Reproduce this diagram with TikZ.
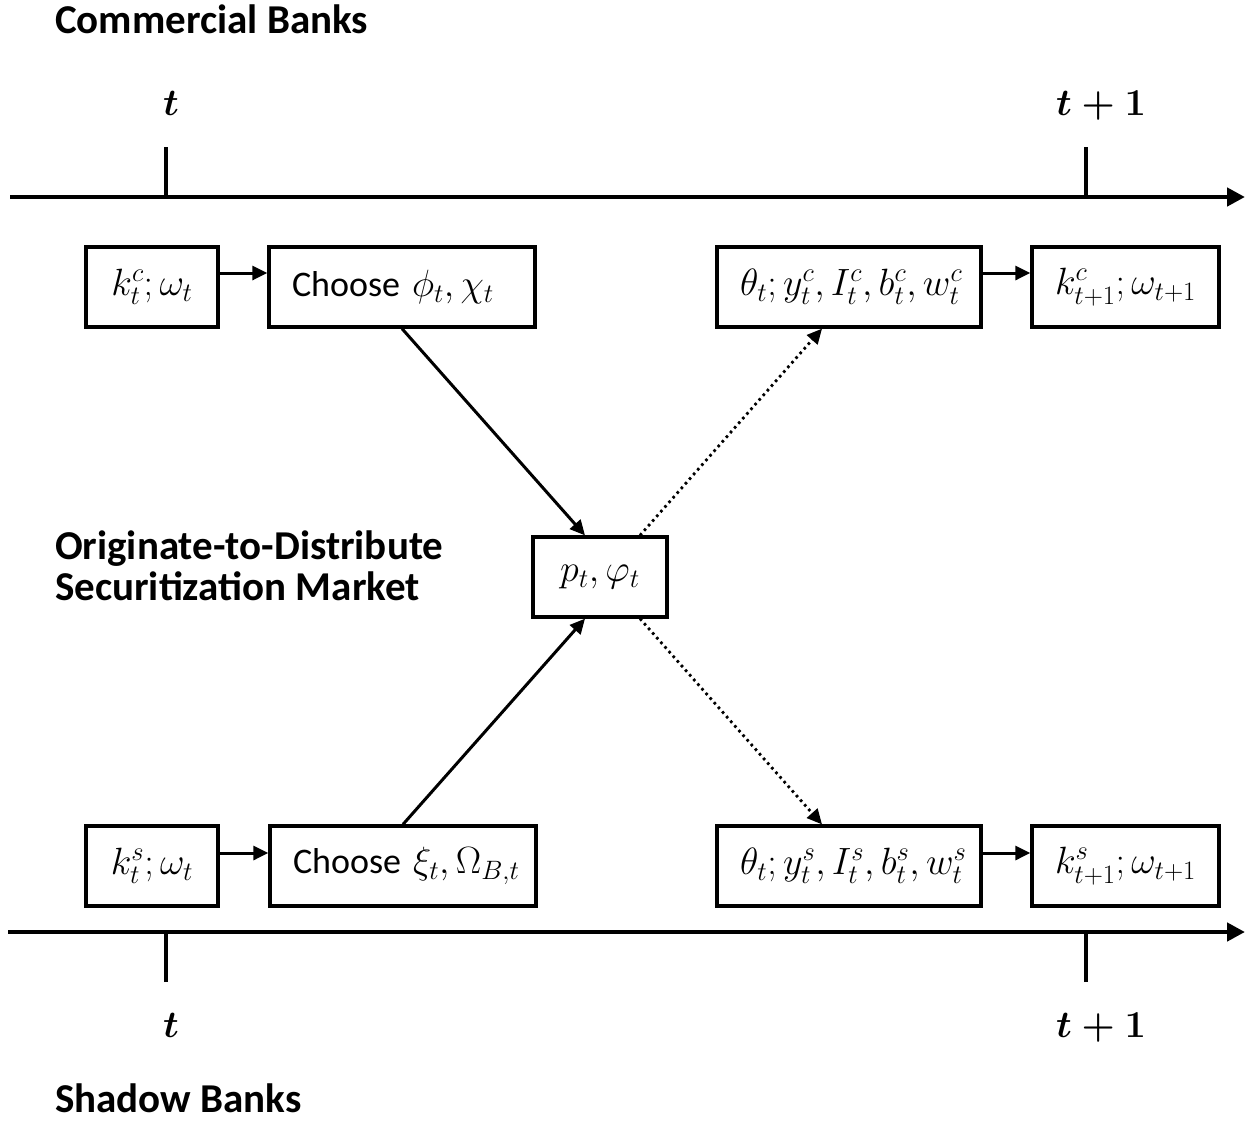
\RequirePackage{fix-cm}
\documentclass[tikz,border=0pt]{standalone}
\usepackage[no-math]{fontspec}
\setmainfont{Carlito}
\usetikzlibrary{arrows.meta}
\newcommand\boxfont{\fontsize{36}{40}\selectfont}
\newcommand\hdfont{\fontsize{41}{41}\selectfont\bfseries}
\newcommand\tmfont{\fontsize{38}{40}\selectfont\boldmath}
% box formulas are set a little larger than the box text
\newcommand\mth[1]{{\fontsize{38}{40}\selectfont$#1$}}
\begin{document}
\begin{tikzpicture}[x=1pt,y=-1pt,
  box/.style={draw, line width=3.3pt, minimum height=80pt, inner xsep=23pt,
              inner ysep=0pt, align=left, font=\boxfont},
  flow/.style={line width=3pt, -{Triangle[length=15pt,width=14pt]}},
  dotflow/.style={line width=2.8pt, dash pattern=on 2.6pt off 3.6pt,
                  -{Triangle[length=15pt,width=14pt]}},
  axis/.style={line width=4.5pt, -{Triangle[length=18pt,width=18pt]}},
  tickmark/.style={line width=4.5pt},
  heading/.style={font=\hdfont, anchor=base west, inner sep=0pt},
  tlabel/.style={font=\tmfont, anchor=base, inner sep=0pt}
]
\useasboundingbox (0,0) rectangle (1251,1120);

% headings
\node[heading] (hc) at (55,33) {Commercial Banks};
\node[heading] (hm1) at (55,559) {Originate-to-Distribute};
\node[heading] (hm2) at (55,600) {Securitization Market};
\node[heading] (hs) at (55,1112) {Shadow Banks};

% upper time axis
\coordinate (ta0) at (10,197);
\coordinate (ta1) at (1245,197);
\draw[axis] (ta0) -- (ta1);
\coordinate (tt0) at (166,147);
\coordinate (tt1) at (1086,147);
\draw[tickmark] (tt0) -- (tt0 |- ta0);
\draw[tickmark] (tt1) -- (tt1 |- ta0);
\node[tlabel] (tl0) at (171,115) {$t$};
\node[tlabel] (tl1) at (1101,115) {$t+1$};

% lower time axis
\coordinate (ba0) at (8,932);
\coordinate (ba1) at (1245,932);
\draw[axis] (ba0) -- (ba1);
\coordinate (bt0) at (166,982);
\coordinate (bt1) at (1086,982);
\draw[tickmark] (bt0) -- (bt0 |- ba0);
\draw[tickmark] (bt1) -- (bt1 |- ba0);
\node[tlabel] (bl0) at (171,1037) {$t$};
\node[tlabel] (bl1) at (1101,1037) {$t+1$};

% commercial banks
\node[box, text width=86pt, align=center] (c1) at (152,287) {\mth{k^c_t;\omega_t}};
\node[box, text width=220pt] (c2) at (402,287) {\mbox{Choose \mth{\phi_t,\chi_t}}};
\node[box, text width=218pt] (c3) at (849,287) {\mbox{\mth{\theta_t;y^c_t,I^c_t,b^c_t,w^c_t}}};
\node[box, text width=141pt] (c4) at (1125.5,287) {\mbox{\mth{k^c_{t+1};\omega_{t+1}}}};

% securitization market
\node[box, text width=88pt, align=center] (m) at (600,577) {\mth{p_t,\varphi_t}};

% shadow banks
\node[box, text width=86pt, align=center] (s1) at (152,866) {\mth{k^s_t;\omega_t}};
\node[box, text width=220pt] (s2) at (403,866) {\mbox{Choose \mth{\xi_t,\Omega_{B,t}}}};
\node[box, text width=218pt] (s3) at (849,866) {\mbox{\mth{\theta_t;y^s_t,I^s_t,b^s_t,w^s_t}}};
\node[box, text width=141pt] (s4) at (1125.5,866) {\mbox{\mth{k^s_{t+1};\omega_{t+1}}}};

% sequence within each period
\draw[flow] ([yshift=14pt]c1.east) -- ([yshift=14pt]c2.west);
\draw[flow] ([yshift=14pt]c3.east) -- ([yshift=14pt]c4.west);
\draw[flow] ([yshift=13pt]s1.east) -- ([yshift=13pt]s2.west);
\draw[flow] ([yshift=13pt]s3.east) -- ([yshift=13pt]s4.west);

% into and out of the market
\draw[flow] (c2.south) -- ([xshift=-15pt]m.north);
\draw[flow] (s2.north) -- ([xshift=-15pt]m.south);
\draw[dotflow] ([xshift=40pt]m.north) -- ([xshift=-27pt]c3.south);
\draw[dotflow] ([xshift=40pt]m.south) -- ([xshift=-27pt]s3.north);
\end{tikzpicture}
\end{document}
